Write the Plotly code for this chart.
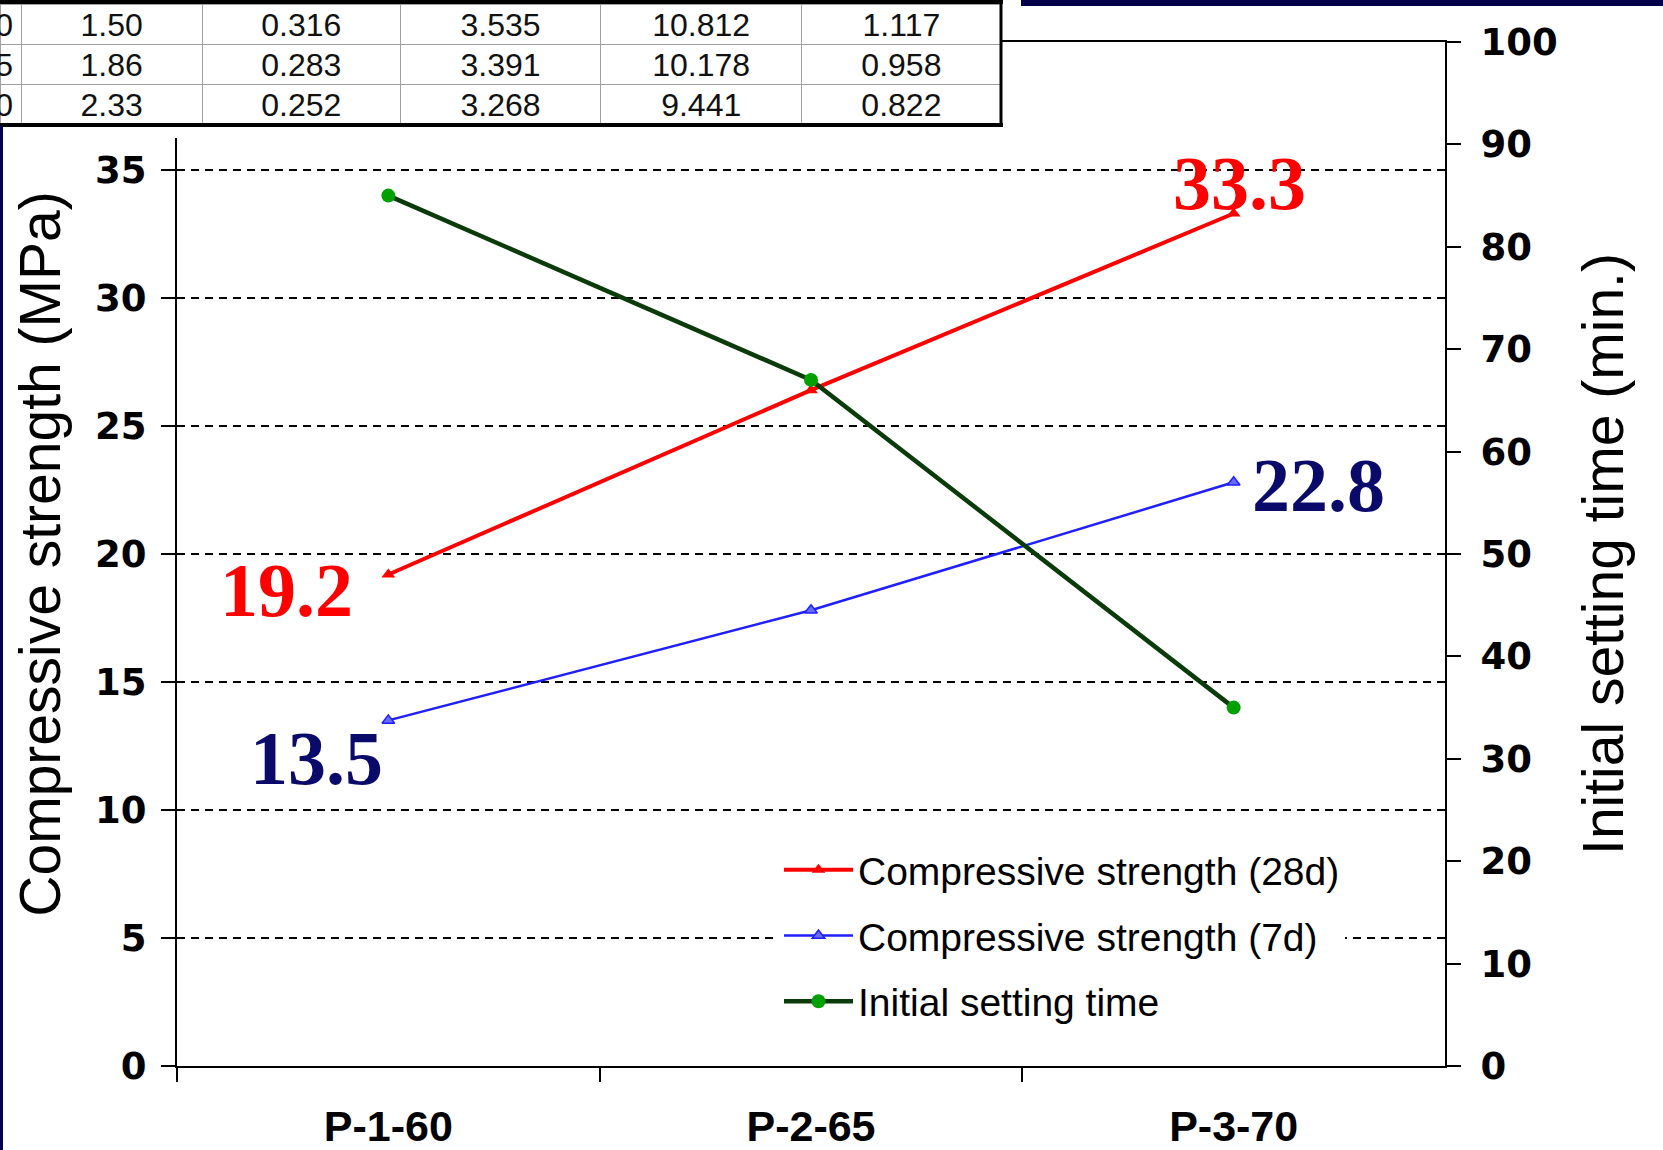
import plotly.graph_objects as go

# ---------------- data ----------------
cats = ["P-1-60", "P-2-65", "P-3-70"]
strength_28d = [19.2, 26.4, 33.3]
strength_7d = [13.5, 17.8, 22.8]
setting_time = [85, 67, 35]

left_ticks = [0, 5, 10, 15, 20, 25, 30, 35]
right_ticks = [0, 10, 20, 30, 40, 50, 60, 70, 80, 90, 100]

tbl_c0 = ["0", "5", "0"]
tbl_c1 = ["1.50", "1.86", "2.33"]
tbl_c2 = ["0.316", "0.283", "0.252"]
tbl_c3 = ["3.535", "3.391", "3.268"]
tbl_c4 = ["10.812", "10.178", "9.441"]
tbl_c5 = ["1.117", "0.958", "0.822"]

W, H = 1663, 1150
def px(x):
    return x / W
def py(y):
    return 1 - y / H

RED = "#FF0000"
BLUE = "#1F1FFF"
NAVY = "#0A0A6A"
GREEN_LINE = "#0B3B0B"
GREEN_MK = "#00A000"

fig = go.Figure()

fig.add_trace(go.Scatter(
    x=cats, y=strength_28d, name="Compressive strength (28d)",
    mode="lines+markers", line=dict(color=RED, width=4),
    marker=dict(symbol="triangle-up", size=12, color=RED),
    legendgroup="a", yaxis="y"))
fig.add_trace(go.Scatter(
    x=cats, y=strength_7d, name="Compressive strength (7d)",
    mode="lines+markers", line=dict(color=BLUE, width=2.5),
    marker=dict(symbol="triangle-up", size=11, color="#6A6AFF",
                line=dict(color=BLUE, width=1.5)),
    legendgroup="b", yaxis="y"))
fig.add_trace(go.Scatter(
    x=cats, y=setting_time, name="Initial setting time",
    mode="lines+markers", line=dict(color=GREEN_LINE, width=4.5),
    marker=dict(symbol="circle", size=14, color=GREEN_MK),
    legendgroup="c", yaxis="y2"))

# table (partial, top-left)
cols = [tbl_c0, tbl_c1, tbl_c2, tbl_c3, tbl_c4, tbl_c5]
tfont = dict(family="Liberation Sans, Arial", size=32, color="#111111")
fig.add_trace(go.Table(
    domain=dict(x=[0, px(1002)], y=[py(126), py(4)]),
    columnwidth=[21, 181, 198, 200, 201, 199],
    header=dict(values=[[c[0]] for c in cols], height=40,
                align=["right"] + ["center"] * 5,
                fill_color="white", line=dict(color="#A0A0A0", width=1), font=tfont),
    cells=dict(values=[c[1:] for c in cols], height=40,
               align=["right"] + ["center"] * 5,
               fill_color="white", line=dict(color="#A0A0A0", width=1), font=tfont),
))

tickfont = dict(family="DejaVu Sans", size=37, color="black", weight="bold")

fig.update_layout(
    width=W, height=H,
    margin=dict(l=0, r=0, t=0, b=0),
    paper_bgcolor="white", plot_bgcolor="white",
    showlegend=True,
    legend=dict(x=px(779), y=py(838), xanchor="left", yanchor="top",
                bgcolor="white", borderwidth=0, traceorder="grouped",
                tracegroupgap=12, itemwidth=69,
                font=dict(family="Liberation Sans", size=39, color="black")),
    xaxis=dict(domain=[px(177), px(1445)], range=[-0.5, 2.5], automargin=False,
               showline=True, linecolor="black", linewidth=2, mirror=True,
               ticks="outside", tickson="boundaries", ticklen=14, tickwidth=1.5,
               tickcolor="black", showgrid=False, zeroline=False,
               ticklabelstandoff=21,
               tickfont=dict(family="Liberation Sans", size=43, color="black", weight="bold")),
    yaxis=dict(domain=[py(1066), py(42)], range=[0, 40], automargin=False,
               tickvals=left_ticks, ticks="outside", ticklen=14, tickwidth=1.5, tickcolor="black",
               showline=True, linecolor="black", linewidth=2,
               showgrid=True, gridcolor="black", gridwidth=1.6, griddash="8px,6px",
               zeroline=False, tickfont=tickfont, ticklabelstandoff=7,
               title=dict(text="Compressive strength (MPa)", standoff=16,
                          font=dict(family="Liberation Sans", size=57, color="black"))),
    yaxis2=dict(overlaying="y", side="right", anchor="x", range=[0, 100], automargin=False,
                tickvals=right_ticks, ticks="outside", ticklen=14, tickwidth=1.5, tickcolor="black",
                showline=True, linecolor="black", linewidth=2, showgrid=False, zeroline=False,
                tickfont=tickfont, ticklabelstandoff=12,
                title=dict(text="Initial setting time (min.)", standoff=26,
                           font=dict(family="Liberation Sans", size=57, color="black"))),
)

# value labels next to end points
lab_font = dict(family="Liberation Serif", size=76)
fig.add_annotation(x=cats[0], y=strength_28d[0], xref="x", yref="y",
                   text="<b>%.1f</b>" % strength_28d[0], showarrow=False,
                   xanchor="right", yanchor="middle", xshift=-33, yshift=-16,
                   font=dict(lab_font, color=RED))
fig.add_annotation(x=cats[0], y=strength_7d[0], xref="x", yref="y",
                   text="<b>%.1f</b>" % strength_7d[0], showarrow=False,
                   xanchor="right", yanchor="middle", xshift=-3, yshift=-38,
                   font=dict(lab_font, color=NAVY))
fig.add_annotation(x=cats[2], y=strength_28d[2], xref="x", yref="y",
                   text="<b>%.1f</b>" % strength_28d[2], showarrow=False,
                   xanchor="center", yanchor="middle", xshift=6, yshift=31,
                   font=dict(lab_font, color=RED))
fig.add_annotation(x=cats[2], y=strength_7d[2], xref="x", yref="y",
                   text="<b>%.1f</b>" % strength_7d[2], showarrow=False,
                   xanchor="left", yanchor="middle", xshift=16, yshift=-3,
                   font=dict(lab_font, color=NAVY))

shapes = [
    # white area behind legend (hides grid line)
    dict(type="rect", xref="paper", yref="paper", layer="between",
         x0=px(705), x1=px(1416), y0=py(1045), y1=py(822),
         fillcolor="white", line=dict(width=0)),
    # white strip under table
    dict(type="rect", xref="paper", yref="paper", layer="above",
         x0=0, x1=px(1004), y0=py(138), y1=py(126),
         fillcolor="white", line=dict(width=0)),
    # table thick borders
    dict(type="line", xref="paper", yref="paper", layer="above",
         x0=0, x1=px(1003), y0=py(2), y1=py(2), line=dict(color="black", width=4)),
    dict(type="line", xref="paper", yref="paper", layer="above",
         x0=0, x1=px(1003), y0=py(125), y1=py(125), line=dict(color="black", width=4)),
    dict(type="line", xref="paper", yref="paper", layer="above",
         x0=px(1001), x1=px(1001), y0=py(0), y1=py(126), line=dict(color="black", width=3)),
    # navy slide decorations
    dict(type="rect", xref="paper", yref="paper", layer="above",
         x0=px(1021), x1=1, y0=py(6), y1=1, fillcolor="#000048", line=dict(width=0)),
    dict(type="rect", xref="paper", yref="paper", layer="above",
         x0=0, x1=px(3), y0=0, y1=py(126), fillcolor="#000050", line=dict(width=0)),
]
fig.update_layout(shapes=shapes)

fig.write_html("out.html", config={"displayModeBar": False},
               post_script="document.body.style.margin='0px';")
